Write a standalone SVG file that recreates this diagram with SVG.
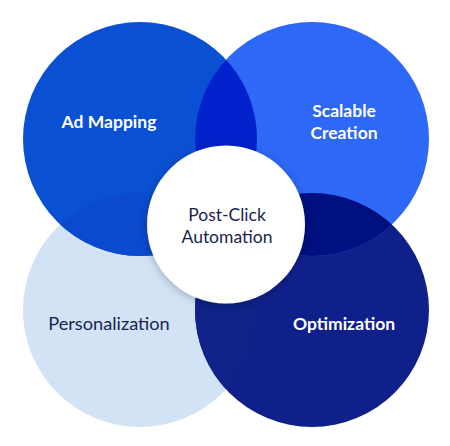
<svg xmlns="http://www.w3.org/2000/svg" width="450" height="446" viewBox="0 0 450 446">
  <style>
    .lbl { font-family: Lato, "Noto Sans", sans-serif; font-size: 17.5px; text-anchor: middle; }
    .w { fill: #ffffff; font-weight: 700; }
    .d { fill: #1b1f4d; font-weight: 400; }
  </style>
  <defs>
    <clipPath id="cTL"><circle cx="140" cy="139" r="117"/></clipPath>
    <clipPath id="cTR"><circle cx="312" cy="139" r="117"/></clipPath>
    <clipPath id="cBL"><circle cx="140" cy="310" r="117"/></clipPath>
    <clipPath id="cBR"><circle cx="312" cy="310" r="117"/></clipPath>
    <filter id="sh" x="-30%" y="-30%" width="160%" height="160%">
      <feDropShadow dx="0" dy="2" stdDeviation="4" flood-color="#000" flood-opacity="0.25"/>
    </filter>
  </defs>
  <rect width="450" height="446" fill="#ffffff"/>
  <g id="personalization">
    <circle cx="140" cy="310" r="117" fill="#d1e3f5"/>
    <text class="lbl d" x="109" y="330" style="font-size:18.2px">Personalization</text>
  </g>
  <g id="optimization">
    <circle cx="312" cy="310" r="117" fill="#10208a"/>
  </g>
  <g id="ad-mapping">
    <circle cx="140" cy="139" r="117" fill="#0a50d2"/>
  </g>
  <g id="scalable-creation">
    <circle cx="312" cy="139" r="117" fill="#2d68f6"/>
  </g>
  <g id="overlaps">
    <g clip-path="url(#cTL)"><circle cx="312" cy="139" r="117" fill="#0021cc"/></g>
    <g clip-path="url(#cTR)"><circle cx="312" cy="310" r="117" fill="#000f80"/></g>
    <g clip-path="url(#cTL)"><circle cx="140" cy="310" r="117" fill="#0b4acc"/></g>
    <g clip-path="url(#cBL)"><circle cx="312" cy="310" r="117" fill="#0e2288"/></g>
  </g>
  <g id="labels">
    <text class="lbl w" x="109" y="128">Ad Mapping</text>
    <text class="lbl w" x="344" y="117">Scalable</text>
    <text class="lbl w" x="344" y="139">Creation</text>
    <text class="lbl w" x="344" y="330">Optimization</text>
  </g>
  <g id="post-click-automation">
    <circle cx="226" cy="224.5" r="79" fill="#ffffff" filter="url(#sh)"/>
    <text class="lbl d" x="227" y="221">Post-Click</text>
    <text class="lbl d" x="227" y="243">Automation</text>
  </g>
</svg>
